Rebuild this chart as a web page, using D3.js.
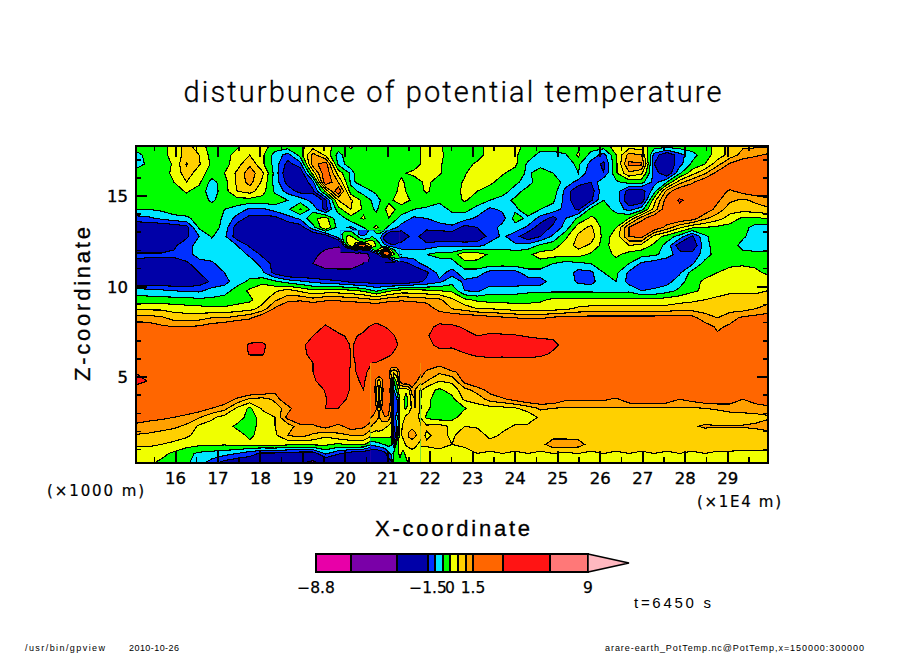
<!DOCTYPE html>
<html><head><meta charset="utf-8">
<script src="https://cdn.jsdelivr.net/npm/d3@7/dist/d3.min.js"></script>
<style>html,body{margin:0;background:#fff}svg{display:block}text{fill:#000}</style>
</head><body><svg id="c" width="904" height="654"></svg>
<script>
const titleText="disturbunce of potential temperature";
const xLabel="X-coordinate", zLabel="Z-coordinate";
const xMajor=[16,17,18,19,20,21,22,23,24,25,26,27,28,29];
const zMajor=[5,10,15];
const xMinor=[15.5,16.5,17.5,18.5,19.5,20.5,21.5,22.5,23.5,24.5,25.5,26.5,27.5,28.5,29.5];
const zMinor=[1,2,3,4,6,7,8,9,11,12,13,14,16,17];
const levels=[-8.8,-6,-3,-1.5,-1,-.5,0,.5,1,1.5,3,6,9];
const bandColors=["#e800a8","#7a00a8","#0000a8","#0030ff","#00e6ff","#00ff00","#f0ff00","#ffd000","#ffa000","#ff6600","#ff1414","#ff7878","#ffb8c0"];
const legendLabels=[-8.8,-1.5,0,1.5,9];
const xDomain=[15.07,29.95], zDomain=[17.76,0.28];

// potential temperature disturbance: top row first
const r00=[-.2,-.2,-.2,.2,.7,.2,-.2,-.2,-.1,.2, .2,-.2,-.2,-.1,.2,.2,-.2,.05,-.2,-.2, -.2,-.2,-.2,.2,.05,-.2,-.2,-.2,.2,.2, .2,-.2,-.2,-.2,-.2,-.2,-.2,-.2,.2,.2, .2,-.2,-.2,-.2,-.2,-.2,.2,.7,.9,.9,.9];
const r01=[-.7,-.3,-.2,.2,.7,.5,-.2,-.2,.2,.5, .1,-.7,-1.2,-.3,1.2,.4,-.7,-.1,-.2,-.2, -.2,-.2,-.2,.2,.1,-.2,-.2,-.2,.2,.2, .05,-.2,-.7,-.7,-.55,.1,-.7,-1.2,0,1.2, 1,-1.2,-2,-1.2,-.7,-.2,.2,.7,1.2,1.4,1.6];
const r02=[-.7,-.4,-.2,.05,1.05,.55,-.1,-.2,.3,.9, .1,-.7,-1.7,-1.2,1.3,1.8,-.6,-.4,-.2,-.2, -.2,-.1,-.2,.2,.05,-.2,-.2,.1,.3,.3, .1,-.6,-.7,-.7,-.7,-.4,-1.2,-1.6,-.1,1.6, 1.6,-1.5,-2,-1.2,-.4,0,.8,1.6,1.9,2,2];
const r03=[-.3,-.2,-.2,.1,.8,.2,-.2,0,.6,1.3, .6,-.7,-2,-2,.2,2,.3,-.6,-.2,-.2, -.2,-.05,.1,.2,.05,-.2,-.05,.3,.3,.05, -.2,-.6,-.2,-.5,-.7,-.5,-1.4,-1.5,-.05,.9, .6,-1.2,-2,-.6,.3,.9,1.7,2,2,2,2];
const r04=[-.2,-.2,-.2,0,.5,.1,-.7,-.2,.6,1.2, .4,-.7,-1.7,-2,-1.2,2,1,-.6,-.3,-.2, -.2,.05,-.2,.1,-.2,-.2,.05,.3,.1,-.2, -.4,-.7,-.2,-.2,-.7,-1.2,-1.5,-.5,-.6,-.3, -.3,-1.2,-.5,.8,1.4,2,2,2,2,2,2];
const r05=[-.2,-.2,-.2,-.2,.05,-.2,-.8,-.2,.5,.7, .2,-.6,-1.2,-1.7,-1.6,.1,2,-.3,-.7,-.4, -.2,.1,-.2,.05,-.2,-.2,.1,0,-.2,-.3, -.7,-.3,-.2,-.2,-1.2,-2,-1.8,-.6,-.7,-1.8, -1.8,-.7,1.2,2,2,2,1.8,1.4,1.7,1.9,2];
const r06=[-.2,-.2,-.2,-.2,-.2,-.2,-.6,-.2,-.2,-.2, -.2,-.2,-.5,-.7,-1.2,-1.6,.5,.6,-.2,-.7, -.1,.2,-.1,-.2,-.4,-.2,.05,-.2,-.5,-.7, -.4,-.2,-.2,-.4,-1.2,-2,-1.6,-.5,-.7,-2, -1.9,.3,1.8,3.2,2.5,2,1.6,1.1,.9,1.1,1.3];
const r07=[-.5,-.5,-.4,-.2,-.2,-.2,-.2,-.5,-.7,-1.1, -1.1,-.8,-.6,.05,-.7,-1.7,-.2,.5,-.1,-.6, .2,-.2,-.5,-.6,-.7,-.4,-.3,-.7,-1.1,-.9, -.6,-.2,-.5,-.7,-1.2,-1.6,-.3,-.2,-.7,-1.2, -.7,.7,2,2.5,2,1.9,1.3,.7,.7,.8,.9];
const r08=[-1.2,-1.1,-.9,-.7,-.6,-.3,-.2,-.6,-1.2,-1.7, -1.7,-1.7,-1.2,-.9,-.1,.2,-.9,-.2,.05,-.3, 0,-.7,-1.1,-1,-.8,-.7,-.8,-1.1,-1.3,-1.2, -.3,-.6,-1.2,-1.7,-1,-.4,.1,-.2,-.2,0, 1.3,2,2,2,1.8,1.1,.7,.3,-.1,-.1,.05];
const r09=[-2,-2,-2,-1.9,-1.7,-.4,-.2,-.7,-1.8,-2, -2,-2,-2,-1.8,-.7,.5,-.7,-1.1,-.5,.1, -.6,-1.2,-1.1,-1.3,-1.2,-1.1,-1.7,-1.5,-1.3,-.8, -.7,-1.1,-1.8,-1.4,-.8,.3,.6,-.2,0,1.5, 2,2,1.3,.6,.1,0,-.1,-.2,-.3,-.7,-.8];
const r10=[-2,-2,-2,-2,-1.6,-1,-.45,-.9,-1.8,-2.2, -2.2,-2.2,-2.2,-2.2,-2.2,-1.9,-.7,.2,-1.2,-.5, -1.8,-2,-1.2,-2,-2,-2,-2,-1.9,-1.3,-.9, -1.3,-1.9,-1.5,-.9,-.1,.6,.8,-.2,.2,1.5, 1.7,.3,-.2,-.7,-1.6,-.6,-.2,-.2,-.4,-.8,-.9];
const r11=[-2,-2,-2,-1.6,-1.2,-.8,-.7,-.7,-1,-1.6, -1.9,-2,-2.2,-2.2,-2.2,-2.6,-2.8,1,2,.5, -1.5,-1.2,-1.3,-1.3,-1.1,-1.1,-1.2,-1.2,-.8,-.7, -.9,-.8,-.4,-.2,.2,.7,.4,-.2,.3,.5, .3,-.1,-.7,-1.8,-2,-.7,-.2,-.2,-.7,-.9,-.9];
const r12=[-1.4,-1.4,-1.4,-1.4,-1.2,-.8,-.7,-.7,-.7,-1.1, -1.6,-1.6,-2,-2.2,-2.6,-3.5,-4,-4,-3,-.7, 2,-.7,-.7,-.5,-.3,-.3,.4,.3,-.1,-.2, -.2,-.1,.2,.2,.2,.2,-.1,-.2,.1,-.2, -.3,-.4,-.7,-1.3,-1.3,-.8,-.2,-.2,-.3,-.3,-.3];
const r13=[-1.6,-1.7,-1.7,-1.7,-1.6,-1.2,-1.1,-.7,-.7,-.7, -1.2,-1.7,-2,-2.2,-3,-4,-4.2,-4.2,-3,-2, -1.8,-1.8,-1.3,-.7,-.8,-.7,-.2,-.2,-.2,-.2, -.2,-.2,-.2,-.5,-.7,-.6,-.5,-.4,-.2,-.5, -1.1,-1.3,-1.5,-1.3,-1.1,-.3,-.2,-.2,-.1,-.1,-.1];
const r14=[-2,-2,-2,-2,-2,-1.5,-1.3,-1,-.7,-.7, -.9,-1.7,-2.2,-2.2,-2.2,-2.2,-2.2,-2.2,-2.2,-2.2, -2.2,-2.2,-2,-1.6,-.8,-1.2,-.7,-.7,-1.2,-1.3, -1.2,-.7,-.7,-.7,-.7,-1.2,-1.1,-.5,-.4,-1.1, -1.3,-1.3,-1.3,-1.1,-.3,-.2,0,.3,.3,.1,-.1];
const r15=[-2,-2,-2,-2,-2,-1.8,-1.4,-1.2,-.7,-.4, -.2,-.4,-.7,-.9,-1.1,-1.3,-1.4,-1.6,-1.7,-1.7, -1.9,-2,-1.7,-1.4,-1.1,-.7,-1.1,-1.3,-1.3,-1.3, -1.3,-1.3,-1.25,-.7,-.7,-1.1,-1.2,-.6,-.5,-1.2, -1.3,-1.3,-1.2,-.7,-.2,.1,.3,.4,.3,.3,.3];
const r16=[-.7,-.8,-.9,-1,-1.1,-1.1,-.8,-.7,-.3,.1, .5,.4,.7,.4,.1,.2,.2,.1,-.1,-.6, -.1,.2,.2,.1,0,-.1,-1,-1.1,-.7,-.7, -.7,-.6,-.6,-.6,-.6,-.6,-.6,-.65,-.7,-.6, -1,-.9,-.7,-.4,-.1,.1,.3,.4,.4,.4,.5];
const r17=[-.3,-.3,-.3,-.3,-.3,-.4,-.4,-.3,-.2,-.1, .3,.9,1.3,1.4,1.2,1.4,1.4,1.3,1.2,1, 1.3,1.4,1.3,1.2,1.1,.6,.1,-.1,-.2,-.2, -.2,-.2,-.1,.1,.1,.1,.1,.1,.1,.1, .1,.1,.2,.3,.4,.5,.6,.7,.7,.7,.8];
const r18=[.4,.4,.4,.3,.2,.2,.1,.1,.2,.3, .7,1.6,2.2,2.2,2.2,2.2,2.2,2.2,2.2,2.2, 2.2,2.2,2.2,2,1.2,1,.8,.5,.5,.4, .3,.3,.3,.3,.4,.6,.7,.7,.7,.7, .7,.7,.7,.8,.8,.8,.8,.8,.8,1,1.2];
const r19=[1.2,1.2,1.1,.8,.8,.8,1,1,1.2,1.4, 2,2.2,2.2,2.2,2.2,2.2,2.2,2.2,2.2,2.2, 2.2,2.2,2.2,2.2,2.2,2,1.9,1.9,1.7,1.6, 1.5,1.4,1.4,1.6,1.7,1.7,1.7,1.7,1.7,1.7, 1.7,1.7,1.8,1.8,1.7,1.2,1,1.3,1.6,1.7,1.8];
const r20=[1.9,1.8,1.6,1.5,1.5,1.6,1.8,2,2.2,2.2, 2.2,2.2,2.2,2.2,2.2,3.2,2.4,2.2,2.6,3.6, 2.7,2.2,2.2,2.5,3.4,3.3,2.8,2.2,2.2,2.2, 2.2,2.2,2.2,2.2,2.2,2.2,2.2,2.2,2.2,2.2, 2.2,2.2,2.2,2.2,2.2,1.8,1.4,1.6,1.9,2,2.2];
const r21=[2.2,2.2,2.2,2.2,2.2,2.2,2.2,2.2,2.2,2.2, 2.2,2.2,2.2,2.2,3,4,3.3,2.7,3.3,4.5, 3.7,2.2,2.2,2.8,4,4,3.5,3,3.3,3.2, 3.1,2.9,2.8,2.8,2.2,2.2,2.2,2.2,2.2,2.2, 2.2,2.2,2.2,2.2,2.2,1.9,1.6,1.9,2.2,2.2,2.2];
const r22=[2.2,2.2,2.2,2.2,2.2,2.2,2.2,2.2,2.2,3.2, 3.3,2.2,2.2,2.6,3.6,5,5,2.8,3.8,5, 4.5,2.4,2.2,2.4,3.5,3.2,3.8,4.5,4.5,4.5, 4.5,3.8,3.5,3.3,2.6,2.2,2.2,2.2,2.2,2.2, 2.2,2.2,2.2,2.2,2.2,2.2,2.2,2.2,2.2,2.2,2.2];
const r23=[2.2,2.2,2.2,2.2,2.2,2.2,2.2,2.2,2.2,3.1, 3.1,2.2,2.2,2.4,3.6,5,5.5,2.9,3.4,4.5, 3.3,2.2,2.2,2.2,2.3,2.6,2.9,3.3,3.5,3.4, 3.6,3.6,3.3,2.8,2.2,2.2,2.2,2.2,2.2,2.2, 2.2,2.2,2.2,2.2,2.2,2.2,2.2,2.2,2.2,2.2,2.2];
const r24=[2.2,2.2,2.2,2.2,2.2,2.2,2.2,2.2,2.2,2.2, 2.2,2.2,2.2,2.2,3,5,5,2.9,3.2,2.9, 2.2,1.9,2.2,1.9,1.7,2.2,2.2,2.2,2.2,2.2, 2.2,2.2,2.2,2.2,2.2,2.2,2.2,2.2,2.2,2.2, 2.2,2.2,2.2,2.2,2.2,2.2,2.2,2.2,2.2,2.2,2.2];
const r25=[2.9,2.3,2.2,2.2,2.2,2.2,2.2,2.2,2.2,2.2, 2.2,2.2,2.2,2.2,3,4.5,5,2.8,3.3,2.2, 2.2,2.2,2.2,1.4,1.1,1.4,1.7,2.2,2.2,2.2, 2.2,2.2,2.2,2.2,2.2,2.2,2.2,2.2,2.2,2.2, 2.2,2.2,2.2,2.2,2.2,2.2,2.2,2.2,2.2,2.2,2.2];
const r26=[3.6,2.9,2.2,2.2,2.2,2.2,2.2,2.2,2.2,2.2, 2.2,2.2,2.2,2.2,2.5,4.5,5,2.8,3.1,2.2, 2.2,2.2,1.8,1,.5,.6,1.7,2.1,2.2,2.2, 2.2,2.2,2.2,2.2,2.2,2.2,2.2,2.2,2.2,2.2, 2.2,2.2,2.2,2.2,2.2,2.2,2.2,2.2,2.2,2.2,2.2];
const r27=[2.2,2.2,2.2,2.2,2.2,2.2,2.2,2.2,2.2,2.2, 2.1,1.7,2.2,2.2,2.2,3.1,4.5,2.8,3,2.2, 2.2,1.5,1,.2,-.1,.2,.8,1.2,1.7,2.1, 2.2,2.2,2.2,2.2,2.2,2.2,2.2,2.2,2.2,2.2, 2.2,2.2,2.2,2.2,2.2,2.2,2.2,2.2,2.2,2.2,2.2];
const r28=[2.2,2.2,2.2,2.2,2.2,2.2,2,1.9,1.4,.9, .8,1.1,2.2,2.2,2.4,2.9,4,2.4,2.2,2.2, 2,1,1,.05,-.1,-.15,.6,.7,1.2,1.4, 1.7,2,2,2,1.6,1.6,1.6,1.6,1.4,1.9, 2.1,2.1,1.9,1.5,1.7,1.9,2,1.9,1.5,1.7,1.9];
const r29=[2.1,2.1,2.1,2.1,2,1.8,1.5,1.2,.4,-.1, .6,.8,1.2,2.2,2.2,3,3,2.2,2.2,2.2, 2,.8,1,.1,-.3,-.3,-.05,.3,.3,.35, .45,.7,1.1,1,.95,.95,.95,.95,.95,.95, .95,.95,.95,.95,.95,1,1.05,1.15,1.2,1.3,1.35];
const r30=[1.7,1.65,1.6,1.5,1.3,1.05,.6,.3,.25,-.2, .2,.5,1.7,2.2,1.9,2.2,2.2,2.1,1.7,1.5, 1,.5,1,-.1,-.3,-.2,.3,.35,.35,.4, .3,.2,.6,.75,.8,.8,.8,.8,.8,.8, .8,.8,.8,.8,.8,.8,.8,.8,.8,.8,.9];
const r31=[1.4,1.3,1.2,1.1,.9,.4,.3,.2,-.1,-.3, .3,.5,.7,1.3,1.4,1.7,1.3,1.8,1.6,1, .6,.6,.9,.6,.7,.4,.5,.4,.5,.35, .55,.6,.8,.8,.8,.8,.8,.8,.8,.8, .8,.8,.8,.8,.95,1.05,1.02,1.02,1.03,1.1,1.3];
const r32=[.95,.9,.8,.7,.6,.3,.25,.2,.2,-.1, .2,.4,1,1.2,.9,.6,.9,1,1,.3, .2,.6,1.1,.4,.7,.4,.8,.9,.3,.6, .8,.8,.8,.8,.8,.8,.8,.8,.8,.8, .8,.8,.8,.8,.8,.8,.8,.8,.8,.7,.7];
const r33=[.6,.6,.5,.4,.2,.1,.1,.05,.2,.1, .2,.25,.1,.05,.1,.1,-.1,.1,.1,-.8, -.3,.3,.6,.6,.8,.5,.7,.8,.8,.8, .8,.8,.8,1.3,1.3,1.2,.8,.8,.8,.8, .8,.8,.8,.8,.8,.8,.8,.8,.7,.7,.7];
const r34=[.2,.2,.15,-.1,-.35,-.6,-.7,-.8,-1,-1.3, -1.6,-1.6,-1.7,-1.8,-1.8,-.9,-1.4,-1.8,-2,-2, -1.5,-.2,.2,.2,.2,.2,.1,.5,.4,.5, .4,.5,.4,.5,.4,.5,.4,.5,.4,.5, .4,.5,.4,.5,.4,.5,.4,.4,.4,.4,.4];
const r35=[.1,.1,-.1,-.3,-.4,-.8,-1.2,-1.7,-1.9,-1.9, -1.9,-2,-2.2,-2.8,-3.3,-2.2,-2.6,-2.4,-2.8,-3, -2.4,-.2,.1,.2,.2,.2,.2,.2,.2,.2, .2,.2,.2,.2,.2,.2,.2,.2,.2,.2, .2,.2,.2,.2,.2,.2,.2,.2,.2,.2,.2];
const rows=[r00,r01,r02,r03,r04,r05,r06,r07,r08,r09,r10,r11,r12,r13,r14,r15,r16,r17,r18,r19,r20,r21,r22,r23,r24,r25,r26,r27,r28,r29,r30,r31,r32,r33,r34,r35];

// finer reading of the narrow spikes above x=21-ish, z from about 5.8 down to the floor
const s0=[2.2,2.2,2.2,2.2,2.2,2.2,2.2,2.2,2.2,2.2,2.2,2.2,2.2,2.2,2.2,2.2,2,1.6];
const s1=[2.2,2.2,2.2,2.2,2.2,2.2,2,.9,.6,.9,1.7,2.2,2.2,2.2,2.2,2.2,2,1.6];
const s2=[2.2,2,1.3,.8,1.3,2.1,2.2,1.3,-.5,.2,1.6,2.2,2.2,2.1,2,1.7,1.4,1.2];
const s3=[2.2,2.1,1.2,.2,1.2,2.1,2.1,1.2,-1,-.3,.3,.15,.1,.5,1.3,1,.7,.4];
const s4=[2.2,2.1,1.3,.2,1.3,2.1,2.1,1.3,-1.5,-1,.2,.1,-.2,.15,.7,1,.7,.3];
const s5=[2.2,2.1,1.6,.5,1.6,2.1,2,1.2,-1.5,-1.2,.2,.1,-.1,.25,.6,1,.7,.3];
const s6=[1.6,1.4,1.2,1,1.2,1.5,1.4,.9,-1.2,-.8,.15,.3,.6,.7,.8,.9,.6,.15];
const s7=[1.1,.9,.8,.9,.8,.6,.5,.3,-1.5,-1,.2,.6,.8,.8,.9,.8,.7,.5];
const s8=[.3,.3,.25,.2,.2,.15,.15,.1,-2,-1,.3,.7,.8,1.1,1.2,1.1,.9,.7];
const s9=[-.9,-.8,-.7,-.6,-.5,-.4,-.3,-.4,-1.5,-.2,.3,.2,.6,.7,.8,.7,.5,.3];
const s10=[-2,-2,-2,-1.9,-1.8,-1.6,-1.1,-.9,-.3,-.1,.1,-.1,.1,.2,.3,.2,.1,.2];
const s11=[-3,-3,-3,-2.4,-2.2,-2.4,-2,-1.6,-.4,-.2,-.1,-.2,-.1,.1,.1,.1,.1,.2];
const spikeRows=[s0,s1,s2,s3,s4,s5,s6,s7,s8,s9,s10,s11];

// finer reading of the tangled cell near z=12
const t0=[-.7,-.7,-.7,-.7,-.7,-1.1,-1.2,-1.1,-.7,-.2,.1,-.3,-1,-1.3,-1.3,-1.3];
const t1=[-.7,-.3,-.1,-.3,-.6,-1.2,-1.3,-.8,-.6,-.6,-.6,-1.2,-1.7,-2,-2,-2];
const t2=[-.9,-.2,.2,.2,-.2,-.5,-.7,-.6,-.4,-.6,-.9,-1.7,-2.2,-2.4,-2.2,-2];
const t3=[-2,-.5,.3,.3,.3,.1,-.1,.2,.3,-.2,-.7,-1.2,-1.7,-2,-1.8,-1.5];
const t4=[-2.2,-1.5,-.3,.2,1.5,2.5,2.5,1,.4,0,-.3,-.8,-1,-1.2,-1.2,-1.3];
const t5=[-2.4,-2.4,-2.2,-2,-1,-2,-1,-1.5,-.8,-.2,.3,1.2,.7,-.2,-.7,-.9];
const t6=[-3.5,-3.5,-3.6,-3.6,-3.5,-3.4,-3.2,-3,-2.2,-1.8,-1,2.5,3,.5,-.3,-.7];
const t7=[-4,-4,-4,-4,-4,-4,-3.8,-3.3,-2.4,-2.2,-2,-2,-1.5,-.8,-.3,-.5];
const t8=[-4.2,-4.2,-4.2,-4.2,-4.2,-4.2,-4,-3,-2.2,-2.1,-2,-2,-2,-1.8,-1.5,-.9];
const tangleRows=[t0,t1,t2,t3,t4,t5,t6,t7,t8];

const svg=d3.select("#c");
const xS=d3.scaleLinear().domain(xDomain).range([136,768]);
const zS=d3.scaleLinear().domain(zDomain).range([146,462.5]);

function drawField(parent,rws,x0,x1,z0,z1,base){
  const nx=rws[0].length,nz=rws.length;
  const dx=(x1-x0)/(nx-1),dz=(z1-z0)/(nz-1);
  const flat=[];
  rws.forEach(r=>{for(let i=0;i<nx;i++)flat.push(r[Math.min(i,r.length-1)]);});
  const proj=d3.geoTransform({point(x,y){this.stream.point(xS(x0+(x-.5)*dx),zS(z0+(y-.5)*dz));}});
  const path=d3.geoPath(proj);
  const contours=d3.contours().size([nx,nz]).smooth(true).thresholds(levels.slice(1))(flat);
  parent.selectAll("path.band").data(contours).join("path").attr("class","band")
    .attr("d",path).attr("fill",d=>bandColors[levels.indexOf(d.value)])
    .attr("stroke","#000").attr("stroke-width",1.1).attr("shape-rendering","crispEdges");
}
const defs=svg.append("defs");
const clip=(id,x,y,w,h)=>{defs.append("clipPath").attr("id",id).append("rect").attr("x",x).attr("y",y).attr("width",w).attr("height",h);return `url(#${id})`;};
svg.append("rect").attr("x",136).attr("y",146).attr("width",632).attr("height",317).attr("fill",bandColors[0]);
const main=svg.append("g").attr("clip-path",clip("plot",136,146,632,316.5));
drawField(main,rows,xDomain[0],xDomain[1],zDomain[0],zDomain[1]);
// detail patches sit on the same scales
const px=xS.invert, pz=zS.invert;
const spike=svg.append("g").attr("clip-path",clip("sp",370.5,363,50,99.5));
drawField(spike,spikeRows,px(370),px(421),pz(363),pz(462));
const tangle=svg.append("g").attr("clip-path",clip("tg",340.5,230.5,59,31.5));
drawField(tangle,tangleRows,px(340),px(400),pz(230),pz(262));

// ticks
const tick=(x1,y1,x2,y2,w)=>svg.append("line").attr("x1",x1).attr("y1",y1).attr("x2",x2).attr("y2",y2)
  .attr("stroke","#000").attr("stroke-width",w).attr("shape-rendering","crispEdges");
xMajor.forEach(v=>{const x=xS(v);tick(x,462,x,451,2);tick(x,146,x,157,2);});
xMinor.forEach(v=>{const x=xS(v);tick(x,462,x,457,1.5);tick(x,146,x,151,1.5);});
zMajor.forEach(v=>{const y=zS(v);tick(136,y,147,y,2);tick(768,y,757,y,2);});
zMinor.forEach(v=>{const y=zS(v);tick(136,y,141,y,1.5);tick(768,y,763,y,1.5);});
svg.append("rect").attr("x",136).attr("y",146).attr("width",632).attr("height",317)
  .attr("fill","none").attr("stroke","#000").attr("stroke-width",2.5).attr("shape-rendering","crispEdges");

const T=(s,x,y,size,opt={})=>{
  const t=svg.append("text").attr("x",x).attr("y",y).text(s)
    .attr("font-family",opt.family||"DejaVu Sans").attr("font-size",size)
    .attr("font-weight",opt.weight||400).attr("text-anchor",opt.anchor||"middle");
  if(opt.len)t.attr("textLength",opt.len).attr("lengthAdjust",opt.adj||"spacing");
  if(opt.rot)t.attr("transform",`rotate(${opt.rot} ${x} ${y})`);
  if(opt.sw)t.style("stroke","#000").style("stroke-width",opt.sw);
  return t;
};
xMajor.forEach(v=>T(String(v),xS(v),484,16.5,{sw:.35}));
zMajor.forEach(v=>T(String(v),128,zS(v)+6,16.5,{anchor:"end",sw:.35}));
T(titleText,452.5,102,29,{family:"Roboto",weight:300,len:538,sw:.3});
T(zLabel,90,304,22,{rot:-90,len:154,family:"Liberation Sans",sw:.3});
T(xLabel,452.5,536,22,{len:155,family:"Liberation Sans",sw:.3});
T("(×1000 m)",95.5,496,15,{len:97,sw:.2});
T("(×1E4 m)",739,507,15,{len:84,sw:.2});
T("t=6450 s",672.5,608,15,{len:77,family:"Liberation Sans"});
T("/usr/bin/gpview",65,651,9,{len:80,family:"Liberation Sans"});
T("2010-10-26",154,651,9,{len:50,family:"Liberation Sans"});
T("arare-earth_PotTemp.nc@PotTemp,x=150000:300000",734.5,651,9,{len:259,family:"Liberation Sans"});

// colour bar
const barX=d3.scaleLinear().domain(levels).range([316,351,397,428,435,443,450,458,466,473,503,550,588]);
const barY0=554,barH=18;
const bar=svg.append("g");
bandColors.slice(0,12).forEach((c,i)=>bar.append("rect")
  .attr("x",barX(levels[i])).attr("y",barY0).attr("width",barX(levels[i+1])-barX(levels[i])).attr("height",barH)
  .attr("fill",c).attr("stroke","#000").attr("stroke-width",1.5).attr("shape-rendering","crispEdges"));
bar.append("path").attr("d",`M${barX(9)},${barY0}L629,${barY0+9}L${barX(9)},${barY0+barH}Z`)
  .attr("fill",bandColors[12]).attr("stroke","#000").attr("stroke-width",1.5);
legendLabels.forEach(v=>{
  const s=v<0?"\u2212"+Math.abs(v).toFixed(1):String(v);
  T(s,barX(v),593,15.5,{sw:.25});
});
</script></body></html>
